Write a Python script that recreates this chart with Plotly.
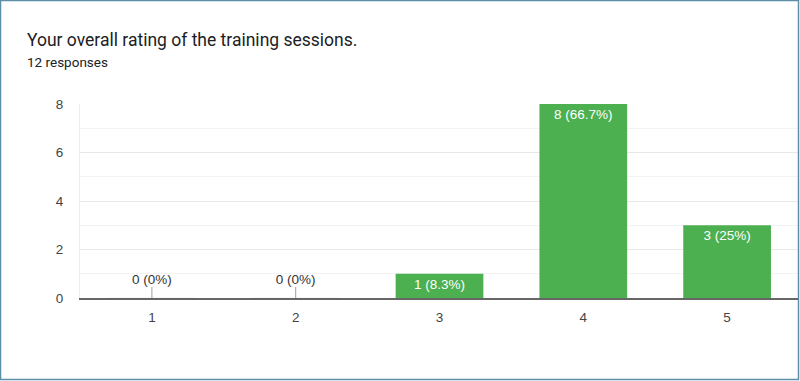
import plotly.graph_objects as go

categories = ["1", "2", "3", "4", "5"]
counts = [0, 0, 1, 8, 3]
labels = ["0 (0%)", "0 (0%)", "1 (8.3%)", "8 (66.7%)", "3 (25%)"]
title_text = "Your overall rating of the training sessions."
subtitle_text = "12 responses"
y_ticks = [0, 2, 4, 6, 8]

GREEN = "#4caf50"
W, H = 800, 381
ML, MR, MT, MB = 80, 1, 104, 83
PW, PH = W - ML - MR, H - MT - MB
CHART_FONT = "Arial, Liberation Sans, sans-serif"
FS = 13.5

nonzero_text = [l if c > 0 else "" for c, l in zip(counts, labels)]
zero_cats = [cat for cat, c in zip(categories, counts) if c == 0]
zero_labels = [l for c, l in zip(counts, labels) if c == 0]
zero_stub = [0.45] * len(zero_cats)

fig = go.Figure()
fig.add_trace(go.Bar(
    x=categories, y=counts, marker_color=GREEN, marker_line_width=0,
    text=nonzero_text, textposition="inside", insidetextanchor="end",
    textangle=0, textfont=dict(color="white", size=FS, family=CHART_FONT),
    cliponaxis=False, hoverinfo="skip",
))
# small grey stubs for zero-value bars
fig.add_trace(go.Bar(
    x=zero_cats, y=[0] * len(zero_cats), marker_color=GREEN,
    error_y=dict(type="data", symmetric=False, array=zero_stub,
                 arrayminus=[0] * len(zero_cats), width=0,
                 color="#9e9e9e", thickness=1),
    hoverinfo="skip",
))
fig.add_trace(go.Scatter(
    x=zero_cats, y=zero_stub, mode="text", text=zero_labels,
    textposition="top center",
    textfont=dict(color="#333333", size=FS, family=CHART_FONT),
    cliponaxis=False, hoverinfo="skip",
))

fig.update_layout(
    width=W, height=H, margin=dict(l=ML, r=MR, t=MT, b=MB),
    paper_bgcolor="white", plot_bgcolor="white",
    showlegend=False, barmode="overlay", bargap=0.39,
    font=dict(family=CHART_FONT, color="#444444", size=FS),
    xaxis=dict(
        type="category", showgrid=False, zeroline=False,
        showline=True, linecolor="#666666", linewidth=1.5,
        ticks="", ticklabelstandoff=6,
        tickfont=dict(size=FS, color="#444444", family=CHART_FONT),
    ),
    yaxis=dict(
        range=[0, 8], tickvals=y_ticks, showgrid=True, gridcolor="#e8e8e8",
        gridwidth=1, zeroline=False, showline=True, linecolor="#eeeeee",
        linewidth=1, ticks="", ticklabelstandoff=13,
        tickfont=dict(size=FS, color="#444444", family=CHART_FONT),
        minor=dict(dtick=1, showgrid=True, gridcolor="#f3f3f3", gridwidth=1),
    ),
    annotations=[
        dict(text=title_text, xref="paper", yref="paper",
             x=(25 - ML) / PW, y=(H - MB - 40) / PH,
             xanchor="left", yanchor="middle", showarrow=False,
             font=dict(size=17.5, color="#202124", family="Roboto")),
        dict(text=subtitle_text, xref="paper", yref="paper",
             x=(25 - ML) / PW, y=(H - MB - 62) / PH,
             xanchor="left", yanchor="middle", showarrow=False,
             font=dict(size=13.5, color="#202124", family="Roboto")),
    ],
    shapes=[
        dict(type="rect", xref="paper", yref="paper", layer="above",
             x0=(0.5 - ML) / PW, x1=(798.5 - ML) / PW,
             y0=-(379.5 - (H - MB)) / PH, y1=((H - MB) - 0.5) / PH,
             line=dict(color="#5b8fa8", width=1.5), fillcolor="rgba(0,0,0,0)"),
    ],
)

fig.write_html(
    "out.html",
    config={"displayModeBar": False},
    post_script="document.body.style.margin='0';document.body.style.padding='0';",
)
